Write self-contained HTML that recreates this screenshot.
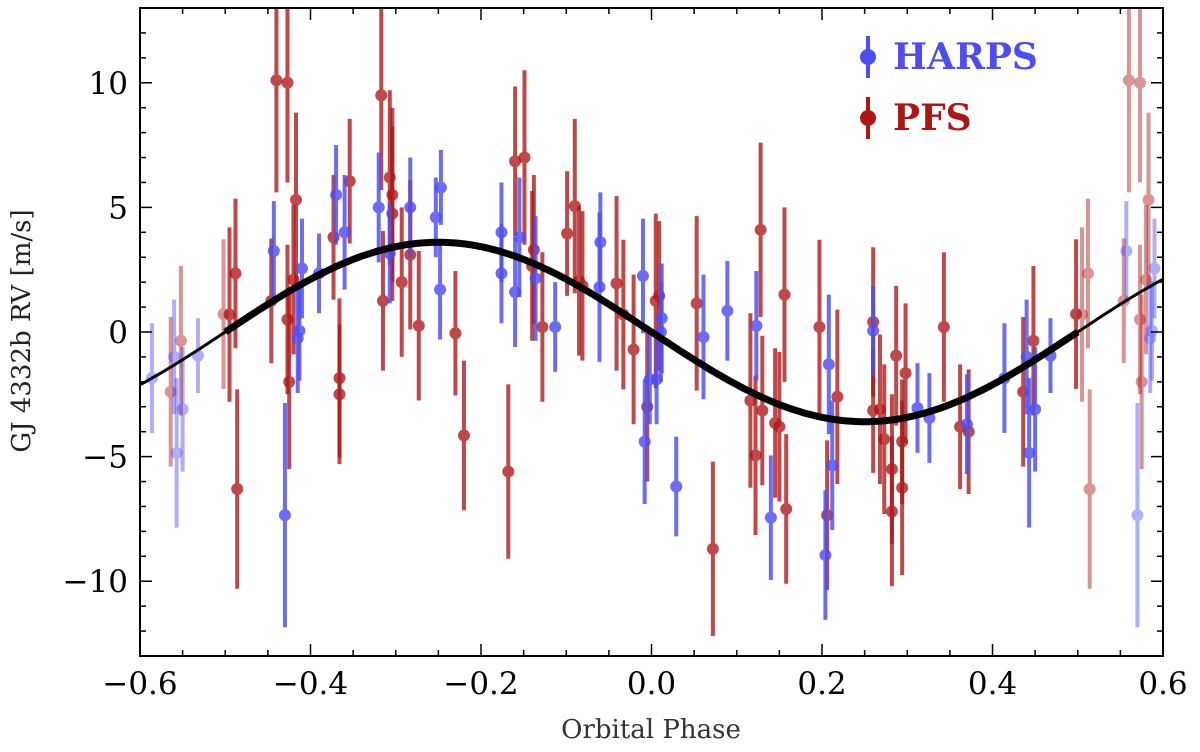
<!DOCTYPE html>
<html><head><meta charset="utf-8"><style>
html,body{margin:0;padding:0;background:#fff;}
svg text{font-family:"DejaVu Serif","Liberation Serif",serif;}
</style></head><body>
<svg id="chart" width="1200" height="747" viewBox="0 0 1200 747">
<g id="marks"></g>
<g id="axes"></g>
</svg>
<script>
const harpsPhase=[0.414,0.44,0.443,0.45,0.468,-0.43,-0.443,-0.41,-0.415,-0.413,-0.39,-0.37,-0.36,-0.32,-0.307,-0.283,-0.253,-0.247,-0.248,-0.176,-0.176,-0.16,-0.155,-0.136,-0.113,-0.061,-0.06,-0.01,-0.008,-0.002,0.006,0.012,0.011,0.029,0.061,0.089,0.123,0.14,0.204,0.208,0.212,0.26,0.312,0.326,0.37];
const harpsRV=[-1.85,-1.0,-4.85,-3.1,-0.95,-7.35,3.25,2.55,-0.25,0.05,2.35,5.5,4.0,5.0,3.15,5.0,4.6,5.8,1.7,4.0,2.35,1.6,3.8,2.15,0.2,1.8,3.6,2.25,-4.4,-1.9,-1.9,0.55,0.0,-6.2,-0.2,0.85,0.25,-7.45,-8.95,-1.3,-5.35,0.05,-3.05,-3.45,-3.7];
const harpsErr=[2.2,2.3,3.0,2.5,1.5,4.5,2.0,2.0,2.2,2.0,1.6,2.0,2.3,2.2,2.0,2.0,1.6,1.5,2.0,2.0,2.0,2.2,2.4,2.5,1.8,3.0,2.0,2.3,2.5,1.8,1.8,2.2,2.0,2.0,2.5,2.0,2.2,2.5,2.6,2.8,2.6,1.8,1.8,1.8,2.0];
const pfsPhase=[-0.495,-0.488,-0.486,-0.446,-0.44,-0.427,-0.427,-0.425,-0.42,-0.417,-0.373,-0.366,-0.366,-0.354,-0.317,-0.315,-0.307,-0.304,-0.304,-0.293,-0.283,-0.273,-0.23,-0.22,-0.168,-0.16,-0.149,-0.14,-0.138,-0.128,-0.099,-0.09,-0.085,-0.081,-0.041,-0.033,-0.021,-0.005,0.005,0.009,0.053,0.072,0.116,0.122,0.128,0.13,0.145,0.15,0.156,0.158,0.197,0.206,0.218,0.26,0.26,0.268,0.273,0.287,0.282,0.282,0.294,0.294,0.298,0.343,0.362,0.372,0.436,0.448,0.498];
const pfsRV=[0.7,2.35,-6.3,1.25,10.1,10.0,0.5,-2.0,2.1,5.3,3.8,-2.5,-1.85,6.05,9.5,1.25,6.2,5.5,4.75,2.0,3.1,0.25,-0.05,-4.15,-5.6,6.85,7.0,2.65,3.3,0.2,3.95,5.05,2.05,1.85,1.95,0.7,-0.7,-3.0,1.25,1.45,1.15,-8.7,-2.75,-4.95,4.1,-3.15,-3.65,-3.8,1.5,-7.1,0.2,-7.35,-2.6,-3.15,0.4,-3.1,-4.3,-0.95,-5.5,-7.2,-4.4,-6.25,-1.65,0.2,-3.8,-4.0,-2.4,-0.35,0.72];
const pfsErr=[3.5,3.0,4.0,2.5,4.5,4.0,3.0,3.5,3.0,3.5,2.5,2.8,3.2,2.5,3.8,2.8,3.5,3.5,3.5,3.0,3.0,3.0,2.5,3.0,3.5,3.0,3.5,3.0,3.0,3.0,2.5,3.5,3.0,3.0,3.5,3.0,3.0,3.0,3.5,3.0,3.5,3.5,3.5,3.2,3.5,3.0,3.0,3.0,3.5,3.0,3.5,3.0,3.5,2.5,3.0,3.0,3.0,2.8,3.0,3.0,2.5,3.5,2.8,3.0,2.5,2.5,3.0,3.0,3.0];
const modelAmp=[3.6];
const xTicks=[-0.6,-0.4,-0.2,0.0,0.2,0.4,0.6];
const xTickLabels=["\u22120.6","\u22120.4","\u22120.2","0.0","0.2","0.4","0.6"];
const yTicks=[-10,-5,0,5,10];
const yTickLabels=["\u221210","\u22125","0","5","10"];

const L=140,R=1163,T=8,B=656,XMIN=-0.6,XMAX=0.6,YMIN=-13,YMAX=13;
const sx=v=>L+(v-XMIN)/(XMAX-XMIN)*(R-L);
const sy=v=>B-(v-YMIN)/(YMAX-YMIN)*(B-T);
const NS="http://www.w3.org/2000/svg";
const marks=document.getElementById('marks'),axes=document.getElementById('axes');
function mk(tag,attrs,parent){const e=document.createElementNS(NS,tag);for(const k in attrs)e.setAttribute(k,attrs[k]);parent.appendChild(e);return e;}

const defs=mk('defs',{},marks);
const cp=mk('clipPath',{id:'clip'},defs);
mk('rect',{x:L,y:T,width:R-L,height:B-T},cp);
const plot=mk('g',{'clip-path':'url(#clip)'},marks);

function drawSeries(ph,rv,er,color,alpha,name){
  for(let i=0;i<ph.length;i++){
    for(const sh of [0,-1,1]){
      const p=ph[i]+sh;
      if(p<XMIN-0.01||p>XMAX+0.01)continue;
      const a=sh===0?alpha:0.45;
      const g=mk('g',{opacity:a},plot);
      
      
      mk('line',{x1:sx(p),x2:sx(p),y1:sy(rv[i]-er[i]),y2:sy(rv[i]+er[i]),stroke:color,'stroke-width':4},g);
      mk('circle',{cx:sx(p),cy:sy(rv[i]),r:6,fill:color},g);
    }
  }
}
drawSeries(pfsPhase,pfsRV,pfsErr,'#b01515',0.78,'pfs');
drawSeries(harpsPhase,harpsRV,harpsErr,'#4d4df5',0.82,'harps');

function modelPath(a,b){let d='';for(let i=0;i<=200;i++){const p=a+(b-a)*i/200;d+=(i?'L':'M')+sx(p).toFixed(1)+','+sy(-modelAmp[0]*Math.sin(2*Math.PI*p)).toFixed(1);}return d;}
const m1=mk('path',{d:modelPath(-0.6,0.6),stroke:'#000','stroke-width':3,fill:'none'},plot);


const m2=mk('path',{d:modelPath(-0.5,0.5),stroke:'#000','stroke-width':7,fill:'none'},plot);



mk('rect',{x:L,y:T,width:R-L,height:B-T,fill:'none',stroke:'#000','stroke-width':2},axes);
for(let v=-0.6;v<=0.6001;v+=0.05){
  const x=sx(v),maj=Math.abs(Math.round(v*5)-v*5)<1e-6,len=maj?12:6;
  mk('line',{x1:x,x2:x,y1:B,y2:B-len,stroke:'#000','stroke-width':1.5},axes);
  mk('line',{x1:x,x2:x,y1:T,y2:T+len,stroke:'#000','stroke-width':1.5},axes);
}
for(let v=-13;v<=13;v++){
  const y=sy(v),maj=v%5===0,len=maj?12:6;
  mk('line',{x1:L,x2:L+len,y1:y,y2:y,stroke:'#000','stroke-width':1.5},axes);
  mk('line',{x1:R,x2:R-len,y1:y,y2:y,stroke:'#000','stroke-width':1.5},axes);
}
xTicks.forEach((v,i)=>{const t=mk('text',{x:sx(v),y:694,'text-anchor':'middle','font-size':31},axes);t.textContent=xTickLabels[i];

});
yTicks.forEach((v,i)=>{const t=mk('text',{x:128,y:sy(v)+11,'text-anchor':'end','font-size':31},axes);t.textContent=yTickLabels[i];

});
</script>
<svg width="1200" height="747" style="position:absolute;left:0;top:0">
<text x="651" y="738" text-anchor="middle" font-size="26" fill="#333">Orbital Phase</text>
<text transform="translate(30,331) rotate(-90)" text-anchor="middle" font-size="26" fill="#222">GJ 4332b RV [m/s]</text>
<g>
<g>
<line x1="868" y1="36" x2="868" y2="78" stroke="#4d4df5" stroke-width="4"/><circle cx="868" cy="57" r="8" fill="#4d4df5"/>
<text x="893" y="69" font-size="36" font-weight="bold" fill="#4d4df5">HARPS</text></g>
<g>
<line x1="868" y1="97" x2="868" y2="139" stroke="#b01515" stroke-width="4"/><circle cx="868" cy="118" r="8" fill="#b01515"/>
<text x="893" y="130" font-size="36" font-weight="bold" fill="#b01515">PFS</text></g>
</g>
</svg>
</body></html>
